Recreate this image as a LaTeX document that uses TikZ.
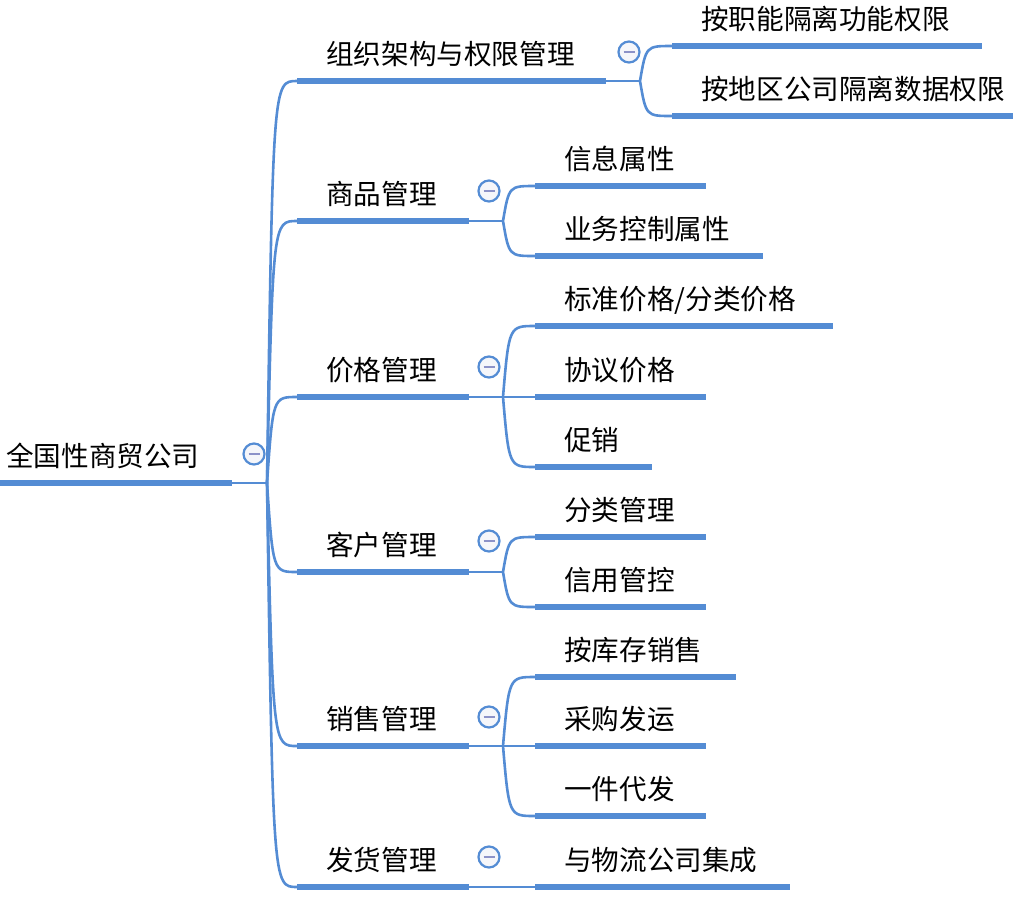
\documentclass[tikz,border=0pt]{standalone}
\usepackage{fontspec}
\setmainfont{Noto Sans CJK SC}
\definecolor{mapblue}{RGB}{84,140,212}
\definecolor{foldgray}{RGB}{140,146,200}
\definecolor{foldfill}{RGB}{245,246,250}
\setlength{\parindent}{0pt}

\begin{document}
\begin{tikzpicture}[x=1pt,y=-1pt]
	\tikzset{topic/.style={anchor=south west, inner xsep=0pt, inner ysep=16pt, text depth=0pt, align=left, text width=#1, font=\fontsize{27.6}{32}\selectfont}}
	\tikzset{leaf/.style={topic=#1, execute at begin node={\hspace*{29pt}}}}
	\tikzset{bar/.style={draw=mapblue, line width=6.5pt}}
	\tikzset{link/.style={draw=mapblue, line width=2.6pt}}
	\tikzset{fold/.style={circle, draw=mapblue, line width=2.2pt, fill=foldfill, minimum size=21pt, inner sep=0pt,
			path picture={\draw[foldgray, line width=2.6pt] ([xshift=-5.5pt]path picture bounding box.center) -- ([xshift=5.5pt]path picture bounding box.center);}}}
	\useasboundingbox (0,0) rectangle (1014,898);
	%topics
	\node[topic=232pt, execute at begin node={\hspace*{6pt}}] (root) at (0,483) {全国性商贸公司};
	\node[leaf=309pt] (org) at (297,81) {组织架构与权限管理};
	\node[leaf=310pt] (org1) at (672,46) {按职能隔离功能权限};
	\node[leaf=341pt] (org2) at (672,116) {按地区公司隔离数据权限};
	\node[leaf=172pt] (goods) at (297,221) {商品管理};
	\node[leaf=171pt] (goods1) at (535,186) {信息属性};
	\node[leaf=228pt] (goods2) at (535,256) {业务控制属性};
	\node[leaf=172pt] (price) at (297,397) {价格管理};
	\node[leaf=298pt] (price1) at (535,326) {标准价格/分类价格};
	\node[leaf=171pt] (price2) at (535,397) {协议价格};
	\node[leaf=117pt] (price3) at (535,467) {促销};
	\node[leaf=172pt] (cust) at (297,572) {客户管理};
	\node[leaf=171pt] (cust1) at (535,537) {分类管理};
	\node[leaf=171pt] (cust2) at (535,607) {信用管控};
	\node[leaf=172pt] (sales) at (297,746) {销售管理};
	\node[leaf=201pt] (sales1) at (535,677) {按库存销售};
	\node[leaf=171pt] (sales2) at (535,746) {采购发运};
	\node[leaf=171pt] (sales3) at (535,816) {一件代发};
	\node[leaf=172pt] (ship) at (297,887) {发货管理};
	\node[leaf=255pt] (ship1) at (535,887) {与物流公司集成};
	%junctions
	\coordinate (rootj) at (267,483);
	\coordinate (orgj) at (640,81);
	\coordinate (goodsj) at (503,221);
	\coordinate (pricej) at (503,397);
	\coordinate (custj) at (503,572);
	\coordinate (salesj) at (503,746);
	\coordinate (shipj) at (503,887);
	%links
	\draw[link] (root.south east) -- (rootj);
	\draw[link] (rootj) .. controls ([xshift=6pt]rootj |- org.south west) .. (org.south west);
	\draw[link] (rootj) .. controls ([xshift=6pt]rootj |- goods.south west) .. (goods.south west);
	\draw[link] (rootj) .. controls ([xshift=6pt]rootj |- price.south west) .. (price.south west);
	\draw[link] (rootj) .. controls ([xshift=6pt]rootj |- cust.south west) .. (cust.south west);
	\draw[link] (rootj) .. controls ([xshift=6pt]rootj |- sales.south west) .. (sales.south west);
	\draw[link] (rootj) .. controls ([xshift=6pt]rootj |- ship.south west) .. (ship.south west);
	\draw[link] (org.south east) -- (orgj);
	\draw[link] (orgj) .. controls ([xshift=6pt]orgj |- org1.south west) .. (org1.south west);
	\draw[link] (orgj) .. controls ([xshift=6pt]orgj |- org2.south west) .. (org2.south west);
	\draw[link] (goods.south east) -- (goodsj);
	\draw[link] (goodsj) .. controls ([xshift=6pt]goodsj |- goods1.south west) .. (goods1.south west);
	\draw[link] (goodsj) .. controls ([xshift=6pt]goodsj |- goods2.south west) .. (goods2.south west);
	\draw[link] (price.south east) -- (pricej);
	\draw[link] (pricej) .. controls ([xshift=6pt]pricej |- price1.south west) .. (price1.south west);
	\draw[link] (pricej) -- (price2.south west);
	\draw[link] (pricej) .. controls ([xshift=6pt]pricej |- price3.south west) .. (price3.south west);
	\draw[link] (cust.south east) -- (custj);
	\draw[link] (custj) .. controls ([xshift=6pt]custj |- cust1.south west) .. (cust1.south west);
	\draw[link] (custj) .. controls ([xshift=6pt]custj |- cust2.south west) .. (cust2.south west);
	\draw[link] (sales.south east) -- (salesj);
	\draw[link] (salesj) .. controls ([xshift=6pt]salesj |- sales1.south west) .. (sales1.south west);
	\draw[link] (salesj) -- (sales2.south west);
	\draw[link] (salesj) .. controls ([xshift=6pt]salesj |- sales3.south west) .. (sales3.south west);
	\draw[link] (ship.south east) -- (shipj) -- (ship1.south west);
	%underlines
	\draw[bar] (root.south west) -- (root.south east);
	\draw[bar] (org.south west) -- (org.south east);
	\draw[bar] (org1.south west) -- (org1.south east);
	\draw[bar] (org2.south west) -- (org2.south east);
	\draw[bar] (goods.south west) -- (goods.south east);
	\draw[bar] (goods1.south west) -- (goods1.south east);
	\draw[bar] (goods2.south west) -- (goods2.south east);
	\draw[bar] (price.south west) -- (price.south east);
	\draw[bar] (price1.south west) -- (price1.south east);
	\draw[bar] (price2.south west) -- (price2.south east);
	\draw[bar] (price3.south west) -- (price3.south east);
	\draw[bar] (cust.south west) -- (cust.south east);
	\draw[bar] (cust1.south west) -- (cust1.south east);
	\draw[bar] (cust2.south west) -- (cust2.south east);
	\draw[bar] (sales.south west) -- (sales.south east);
	\draw[bar] (sales1.south west) -- (sales1.south east);
	\draw[bar] (sales2.south west) -- (sales2.south east);
	\draw[bar] (sales3.south west) -- (sales3.south east);
	\draw[bar] (ship.south west) -- (ship.south east);
	\draw[bar] (ship1.south west) -- (ship1.south east);
	%fold icons
	\node[fold] (rootf) at (254,454) {};
	\node[fold] (orgf) at (629,52) {};
	\node[fold] (goodsf) at (489,191) {};
	\node[fold] (pricef) at (489,367) {};
	\node[fold] (custf) at (489,541) {};
	\node[fold] (salesf) at (489,717) {};
	\node[fold] (shipf) at (489,857) {};
\end{tikzpicture}
\end{document}
